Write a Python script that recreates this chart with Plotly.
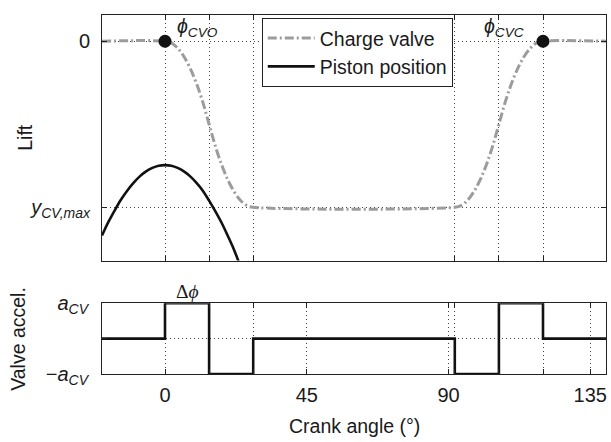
import plotly.graph_objects as go
from plotly.subplots import make_subplots

# ---- data ----
valve_angle = [-20, 0, 2, 4, 6, 8, 10, 12, 14, 16, 18, 20, 22, 24, 26, 28,
               92, 94, 96, 98, 100, 102, 104, 106, 108, 110, 112, 114, 116, 118, 120, 140]
valve_lift = [0, 0, -0.010, -0.041, -0.092, -0.163, -0.255, -0.367, -0.5, -0.633, -0.745, -0.837, -0.908, -0.959, -0.990, -1,
              -1, -0.990, -0.959, -0.908, -0.837, -0.745, -0.633, -0.5, -0.367, -0.255, -0.163, -0.092, -0.041, -0.010, 0, 0]

piston_angle = [-20, -18, -16, -14, -12, -10, -8, -6, -4, -2, 0, 2, 4, 6, 8, 10, 12, 14, 16, 18, 20, 22, 24]
piston_pos = [-1.17, -1.09, -1.02, -0.955, -0.90, -0.853, -0.814, -0.784, -0.763, -0.750, -0.746, -0.750,
              -0.763, -0.784, -0.814, -0.853, -0.90, -0.96, -1.025, -1.095, -1.175, -1.26, -1.36]

event_angle = [0, 120]
event_lift = [0, 0]

accel_angle = [-20, 0, 14, 28, 92, 106, 120, 140]
accel_value = [0, 1, -1, 0, -1, 1, 0, 0]

top_ticks = [0, 14, 28, 92, 106, 120]
bottom_ticks = [0, 45, 90, 135]
bottom_ticktext = ["0", "45", "90", "135"]
lift_ticks = [-1, 0]
lift_ticktext = ["<i>y</i><sub><i>CV,max</i></sub>", "0"]
accel_ticks = [-1, 0, 1]
accel_ticktext = ["\u2212<i>a</i><sub><i>CV</i></sub>", "", "<i>a</i><sub><i>CV</i></sub>"]

FONT = "Liberation Sans, Arial, sans-serif"
FS_TICK = 20
FS_LEG = 19.5
FS_TITLE = 19.5
TXT = "#1a1a1a"
GRID = "#444444"
GDASH = "1px,3px"

fig = make_subplots(rows=2, cols=1, shared_xaxes=False, vertical_spacing=0.0)

fig.add_trace(go.Scatter(x=valve_angle, y=valve_lift, mode="lines", name="Charge valve",
                         line=dict(color="#9c9c9c", width=3, dash="9px,3px,2px,3px"),
                         line_shape="spline"), row=1, col=1)
fig.add_trace(go.Scatter(x=piston_angle, y=piston_pos, mode="lines", name="Piston position",
                         line=dict(color="#111111", width=2.6), line_shape="spline"), row=1, col=1)
fig.add_trace(go.Scatter(x=event_angle, y=event_lift, mode="markers", showlegend=False,
                         marker=dict(color="#111111", size=13), cliponaxis=False), row=1, col=1)
fig.add_trace(go.Scatter(x=accel_angle, y=accel_value, mode="lines", showlegend=False,
                         line=dict(color="#111111", width=2.6), line_shape="hv",
                         cliponaxis=False), row=2, col=1)

axis_common = dict(showline=True, linecolor="#222222", linewidth=1, mirror="ticks",
                   ticks="inside", ticklen=5, tickcolor="#222222", zeroline=False,
                   showgrid=True, gridcolor=GRID, gridwidth=1, griddash=GDASH,
                   tickfont=dict(family=FONT, size=FS_TICK, color=TXT))

fig.update_xaxes(range=[-20, 140], tickmode="array", tickvals=top_ticks, showticklabels=False,
                 row=1, col=1, **axis_common)
fig.update_xaxes(range=[-20, 140], tickmode="array", tickvals=bottom_ticks, ticktext=bottom_ticktext,
                 minor=dict(tickmode="array", tickvals=[14, 28, 92, 106, 120], showgrid=True,
                            gridcolor=GRID, griddash=GDASH, ticks="inside", ticklen=5,
                            tickcolor="#222222"),
                 ticklabelstandoff=3, row=2, col=1, **axis_common)
fig.update_yaxes(range=[-1.321, 0.158], tickmode="array", tickvals=lift_ticks, ticktext=lift_ticktext,
                 ticklabelstandoff=7, row=1, col=1, **axis_common)
fig.update_yaxes(range=[-1, 1], tickmode="array", tickvals=accel_ticks, ticktext=accel_ticktext,
                 ticklabelstandoff=9, row=2, col=1, **axis_common)

fig.update_layout(
    width=611, height=442,
    margin=dict(l=102, r=4, t=8, b=68),
    paper_bgcolor="white", plot_bgcolor="white",
    font=dict(family=FONT, size=FS_TICK, color=TXT),
    xaxis=dict(domain=[0, 1]), yaxis=dict(domain=[0.316, 1]),
    xaxis2=dict(domain=[0, 1]), yaxis2=dict(domain=[0, 0.197]),
    legend=dict(x=0.317, y=0.992, xanchor="left", yanchor="top",
                bordercolor="#222222", borderwidth=1, bgcolor="white",
                font=dict(family=FONT, size=FS_LEG, color=TXT),
                tracegroupgap=0, itemwidth=47),
    showlegend=True,
)

PHI = "\u03d5"
annots = [
    dict(text="<i>" + PHI + "</i><sub><i>CVO</i></sub>", x=3.3, y=0, xref="x", yref="y",
         xanchor="left", yanchor="bottom", yshift=-1, showarrow=False,
         font=dict(family=FONT, size=FS_TITLE, color=TXT)),
    dict(text="<i>" + PHI + "</i><sub><i>CVC</i></sub>", x=100.5, y=0, xref="x", yref="y",
         xanchor="left", yanchor="bottom", yshift=-1, showarrow=False,
         font=dict(family=FONT, size=FS_TITLE, color=TXT)),
    dict(text="\u0394<i>" + PHI + "</i>", x=7, y=1, xref="x2", yref="y2",
         xanchor="center", yanchor="bottom", yshift=-1, showarrow=False,
         font=dict(family="Liberation Serif, serif", size=FS_TITLE, color=TXT)),
    dict(text="Lift", x=24, y=133, xref="paper", yref="paper", showarrow=False, textangle=-90,
         font=dict(family=FONT, size=FS_TITLE, color=TXT)),
    dict(text="Valve accel.", x=18, y=338, xref="paper", yref="paper", showarrow=False, textangle=-90,
         font=dict(family=FONT, size=FS_TITLE, color=TXT)),
    dict(text="Crank angle (\u00b0)", x=355, y=427, xref="paper", yref="paper", showarrow=False,
         font=dict(family=FONT, size=FS_TITLE, color=TXT)),
]
# convert pixel positions of the title annotations to paper coordinates
for a in annots[3:]:
    a["x"] = (a["x"] - 102) / 505
    a["y"] = (374 - a["y"]) / 366
    a["xanchor"] = "center"
    a["yanchor"] = "middle"
fig.update_layout(annotations=annots)

fig.write_html("out.html", config={"displayModeBar": False},
               post_script="document.body.style.margin='0px';")
